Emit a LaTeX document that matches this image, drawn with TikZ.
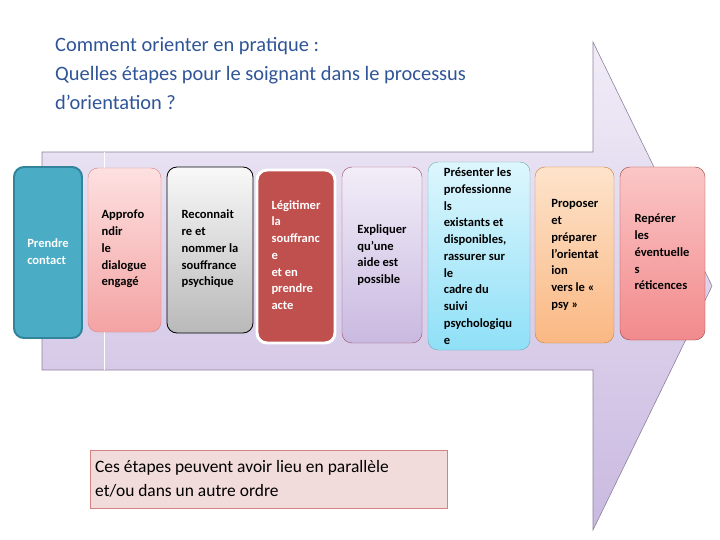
\documentclass[tikz,border=0pt]{standalone}
\usepackage{fontspec}
\setmainfont{Carlito}
\begin{document}
\begin{tikzpicture}[x=1bp,y=-1bp,
  lbl/.style={font=\bfseries\fontsize{12.6}{16.8}\selectfont,align=left,inner sep=0pt},
  card/.style={rounded corners=10bp},
]
\useasboundingbox (0,0) rectangle (720,540);
\definecolor{lav}{HTML}{DCD1EC}
\definecolor{lavd}{HTML}{C9B9E0}
\definecolor{lavl}{HTML}{F2EDF8}
\definecolor{title}{HTML}{2F5597}
\definecolor{teal}{HTML}{4BACC6}\definecolor{teald}{HTML}{31849B}
\definecolor{pk1}{HTML}{FDE0E0}\definecolor{pk2}{HTML}{F4A3A3}
\definecolor{rd}{HTML}{C0504D}
\definecolor{cy1}{HTML}{DDF6FD}\definecolor{cy2}{HTML}{8FE0F7}
\definecolor{or1}{HTML}{FDE3CB}\definecolor{or2}{HTML}{FAB883}
\definecolor{rp1}{HTML}{FBC6C6}\definecolor{rp2}{HTML}{F28A8C}
\definecolor{nt}{HTML}{F2DCDB}
% big arrow
\path[top color=lav!40,bottom color=lavd,draw=lavd!70!black,line width=0.6pt]
  (42,152) -- (593,152) -- (593,42) -- (712,286) -- (593,530) -- (593,370) -- (42,370) -- cycle;
\draw[white,line width=0.8pt] (104,152) -- (104,370);
% title
\node[anchor=north west,align=left,text=title,font=\fontsize{20.5}{29}\selectfont,inner sep=0pt] (t) at (55,37)
 {Comment orienter en pratique :\\Quelles étapes pour le soignant dans le processus\\d’orientation ?};
% boxes
\filldraw[card,fill=teal,draw=teald,line width=2pt] (14,167) rectangle (82,338);
\node[lbl,text=white] (b1) at (48,252) {Prendre\\contact};
\path[card,top color=pk1,bottom color=pk2,draw=rd!70] (88,168) rectangle (161,332);
\node[lbl] (b2) at (124,249) {Approfo\\ndir\\le\\dialogue\\engagé};
\path[card,top color=white!95!gray,bottom color=gray!55,draw=black,line width=0.8pt] (167,167) rectangle (253,333);
\node[lbl] (b3) at (210,249) {Reconnait\\re et\\nommer la\\souffrance\\psychique};
\filldraw[card,fill=rd,draw=white,line width=3pt] (257,170) rectangle (335,343);
\node[lbl,text=white] (b4) at (296,255) {Légitimer\\la\\souffranc\\e\\et en\\prendre\\acte};
\path[card,top color=lavl,bottom color=lavd,draw=purple!40!gray] (342,167) rectangle (422,343);
\node[lbl] (b5) at (382,255) {Expliquer\\qu’une\\aide est\\possible};
\path[card,top color=cy1,bottom color=cy2,draw=teald!70] (428,162) rectangle (530,350);
\node[lbl] (b6) at (478,256) {Présenter les\\professionne\\ls\\existants et\\disponibles,\\rassurer sur\\le\\cadre du\\suivi\\psychologiqu\\e};
\path[card,top color=or1,bottom color=or2,draw=orange!60!gray] (535,167) rectangle (614,343);
\node[lbl] (b7) at (575,255) {Proposer\\et\\préparer\\l’orientat\\ion\\vers le «\\psy »};
\path[card,top color=rp1,bottom color=rp2,draw=rd!80!black] (620,167) rectangle (705,340);
\node[lbl] (b8) at (662,252) {Repérer\\les\\éventuelle\\s\\réticences};
% bottom note
\filldraw[fill=nt,draw=rd!70] (90,450) rectangle (447,508);
\node[anchor=west,align=left,font=\fontsize{17.5}{24}\selectfont,inner sep=0pt] (n) at (95,479) {Ces étapes peuvent avoir lieu en parallèle\\et/ou dans un autre ordre};
\end{tikzpicture}
\end{document}
